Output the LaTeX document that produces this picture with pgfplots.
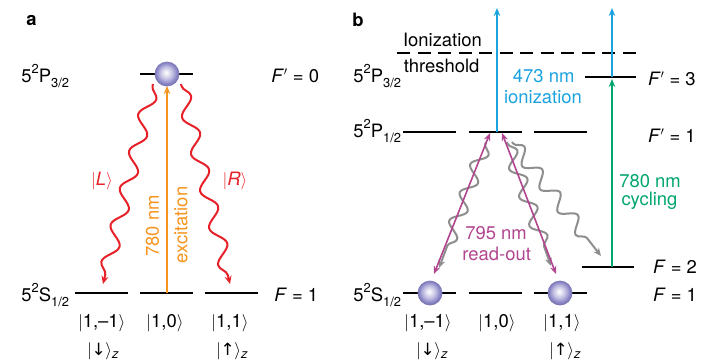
\documentclass[border=0pt]{standalone}
\usepackage{fontspec}
\setmainfont{TeX Gyre Heros}
\newfontfamily\dejavu{DejaVu Sans}
\usepackage{pgfplots}
\pgfplotsset{compat=1.18}
\usetikzlibrary{decorations.pathmorphing,arrows.meta}
\definecolor{cred}{HTML}{E62129}
\definecolor{corange}{HTML}{F7941D}
\definecolor{cblue}{HTML}{1BA3E0}
\definecolor{cgreen}{HTML}{00A66E}
\definecolor{cmag}{HTML}{B2458F}
\definecolor{cgray}{HTML}{8E8E8E}
\definecolor{cball}{HTML}{8884C6}
\pgfdeclareradialshading{sballshade}{\pgfpoint{-2bp}{3bp}}{color(0bp)=(white); color(4bp)=(white!85!cball); color(13bp)=(white!45!cball); color(21bp)=(cball); color(25bp)=(cball!88!black); color(50bp)=(cball!88!black)}
\pgfdeclareplotmark{sball}{\pgfpathcircle{\pgfpointorigin}{\pgfplotmarksize}\pgfshadepath{sballshade}{0}\pgfusepath{discard}}
\newcommand{\sub}[1]{\raisebox{-0.3em}{\fontsize{13}{14}\selectfont #1}}
\newcommand{\sups}[1]{\raisebox{0.45em}{\fontsize{13}{14}\selectfont #1}}
\newcommand{\spin}[1]{$|$\kern-0.5bp{\dejavu\fontsize{17}{18}\selectfont #1}\kern-0.5bp$\rangle$\raisebox{-0.18em}{\fontsize{13}{14}\selectfont\itshape z}}
\begin{document}
\fontsize{18.5}{21}\selectfont
\begin{tikzpicture}
\begin{axis}[x=1bp,y=1bp,y dir=reverse,xmin=0,xmax=703,ymin=0,ymax=361,hide axis,clip=false,
  lvl/.style={black,line width=1.7bp},
  arr/.style={line width=1.6bp,-{Stealth[length=8bp,width=6.5bp]}},
  wave/.style={line width=2bp,decorate,decoration={snake,amplitude=7bp,segment length=#1,post length=9bp,pre length=2bp},-{Stealth[length=8bp,width=7bp]}},
  every node/.append style={inner sep=0pt}]
\addplot[draw=none] coordinates {(0,0) (703,361)};
% ---------- panel a levels
\addplot[lvl] coordinates {(140,74) (193,74)};
\addplot[lvl] coordinates {(75,293) (128,293)};
\addplot[lvl] coordinates {(140,293) (193,293)};
\addplot[lvl] coordinates {(205,293) (258,293)};
% excitation arrow
\addplot[arr,corange] coordinates {(167,293) (167,86)};
% red emission waves
\addplot[wave=38bp,cred] coordinates {(153,84) (103,284)};
\addplot[wave=38bp,cred] coordinates {(181,84) (230,284)};
% ball a
\addplot[only marks,mark=sball,mark size=12.4bp] coordinates {(167,74)};
% ---------- panel b levels
\addplot[black,line width=1.2bp,dash pattern=on 13bp off 7.5bp] coordinates {(397,53) (638,53)};
\addplot[lvl] coordinates {(585,77) (636,77)};
\addplot[lvl] coordinates {(403,132) (456,132)};
\addplot[lvl] coordinates {(469,132) (522,132)};
\addplot[lvl] coordinates {(534,132) (587,132)};
\addplot[lvl] coordinates {(582,267) (634,267)};
\addplot[lvl] coordinates {(403,293) (456,293)};
\addplot[lvl] coordinates {(469,293) (522,293)};
\addplot[lvl] coordinates {(534,293) (587,293)};
% ionization and cycling arrows
\addplot[arr,cblue] coordinates {(497,132) (497,8)};
\addplot[arr,cblue] coordinates {(612,77) (612,8)};
\addplot[arr,cgreen] coordinates {(612,267) (612,79)};
% gray spontaneous emission
\addplot[wave=30bp,cgray] coordinates {(486,142) (439,268)};
\addplot[wave=30bp,cgray] coordinates {(507,142) (551,266)};
\addplot[wave=29bp,cgray] coordinates {(512,142) (601,256)};
% read-out arrows
\addplot[cmag,line width=1.6bp,{Stealth[length=8bp,width=6.5bp]}-{Stealth[length=8bp,width=6.5bp]}] coordinates {(434,274) (490,133)};
\addplot[cmag,line width=1.6bp,{Stealth[length=8bp,width=6.5bp]}-{Stealth[length=8bp,width=6.5bp]}] coordinates {(502,133) (556,274)};
% balls b
\addplot[only marks,mark=sball,mark size=12.4bp] coordinates {(430,293) (560,293)};
% ---------- texts a
\node[anchor=base west] at (axis cs:20,25) {\bfseries a};
\node[anchor=base west] at (axis cs:15,82) {5\sups{2}P\sub{3/2}};
\node[anchor=base west] at (axis cs:15,301) {5\sups{2}S\sub{1/2}};
\node[anchor=base west] at (axis cs:265,82) {\textit{F}$'$ = 0};
\node[anchor=base west] at (axis cs:268,301) {\textit{F} = 1};
\node[anchor=base] at (axis cs:101.7,327) {$|$1,--1$\rangle$};
\node[anchor=base] at (axis cs:165,327) {$|$1,0$\rangle$};
\node[anchor=base] at (axis cs:230,327) {$|$1,1$\rangle$};
\node[anchor=base] at (axis cs:103,355) {\spin{↓}};
\node[anchor=base] at (axis cs:232,355) {\spin{↑}};
\node[cred] at (axis cs:102,181) {$|$\textit{L}$\rangle$};
\node[cred] at (axis cs:235,181) {$|$\textit{R}$\rangle$};
\node[corange,rotate=90] at (axis cs:152.5,226) {780 nm};
\node[corange,rotate=90] at (axis cs:181,225) {excitation};
% ---------- texts b
\node[anchor=base west] at (axis cs:346,26.7) {\bfseries b};
\node[anchor=base west] at (axis cs:347,82) {5\sups{2}P\sub{3/2}};
\node[anchor=base west] at (axis cs:347,137) {5\sups{2}P\sub{1/2}};
\node[anchor=base west] at (axis cs:347,301) {5\sups{2}S\sub{1/2}};
\node[anchor=base west] at (axis cs:641.7,85) {\textit{F}$'$ = 3};
\node[anchor=base west] at (axis cs:641.7,142) {\textit{F}$'$ = 1};
\node[anchor=base west] at (axis cs:646.7,273) {\textit{F} = 2};
\node[anchor=base west] at (axis cs:646.7,301) {\textit{F} = 1};
\node[anchor=base] at (axis cs:442.5,46) {Ionization};
\node[anchor=base] at (axis cs:441.7,72.7) {threshold};
\node[anchor=base,cblue] at (axis cs:543.7,82.7) {473 nm};
\node[anchor=base,cblue] at (axis cs:543,103) {ionization};
\node[anchor=base,cgreen] at (axis cs:650,187) {780 nm};
\node[anchor=base,cgreen] at (axis cs:649.5,205) {cycling};
\node[anchor=base,cmag] at (axis cs:496,239) {795 nm};
\node[anchor=base,cmag] at (axis cs:496.7,260) {read-out};
\node[anchor=base] at (axis cs:428,327) {$|$1,--1$\rangle$};
\node[anchor=base] at (axis cs:497,327) {$|$1,0$\rangle$};
\node[anchor=base] at (axis cs:562,327) {$|$1,1$\rangle$};
\node[anchor=base] at (axis cs:432,355) {\spin{↓}};
\node[anchor=base] at (axis cs:565,355) {\spin{↑}};
\end{axis}
\pgfresetboundingbox
\path (current axis.south west) rectangle (current axis.north east);
\end{tikzpicture}
\end{document}
